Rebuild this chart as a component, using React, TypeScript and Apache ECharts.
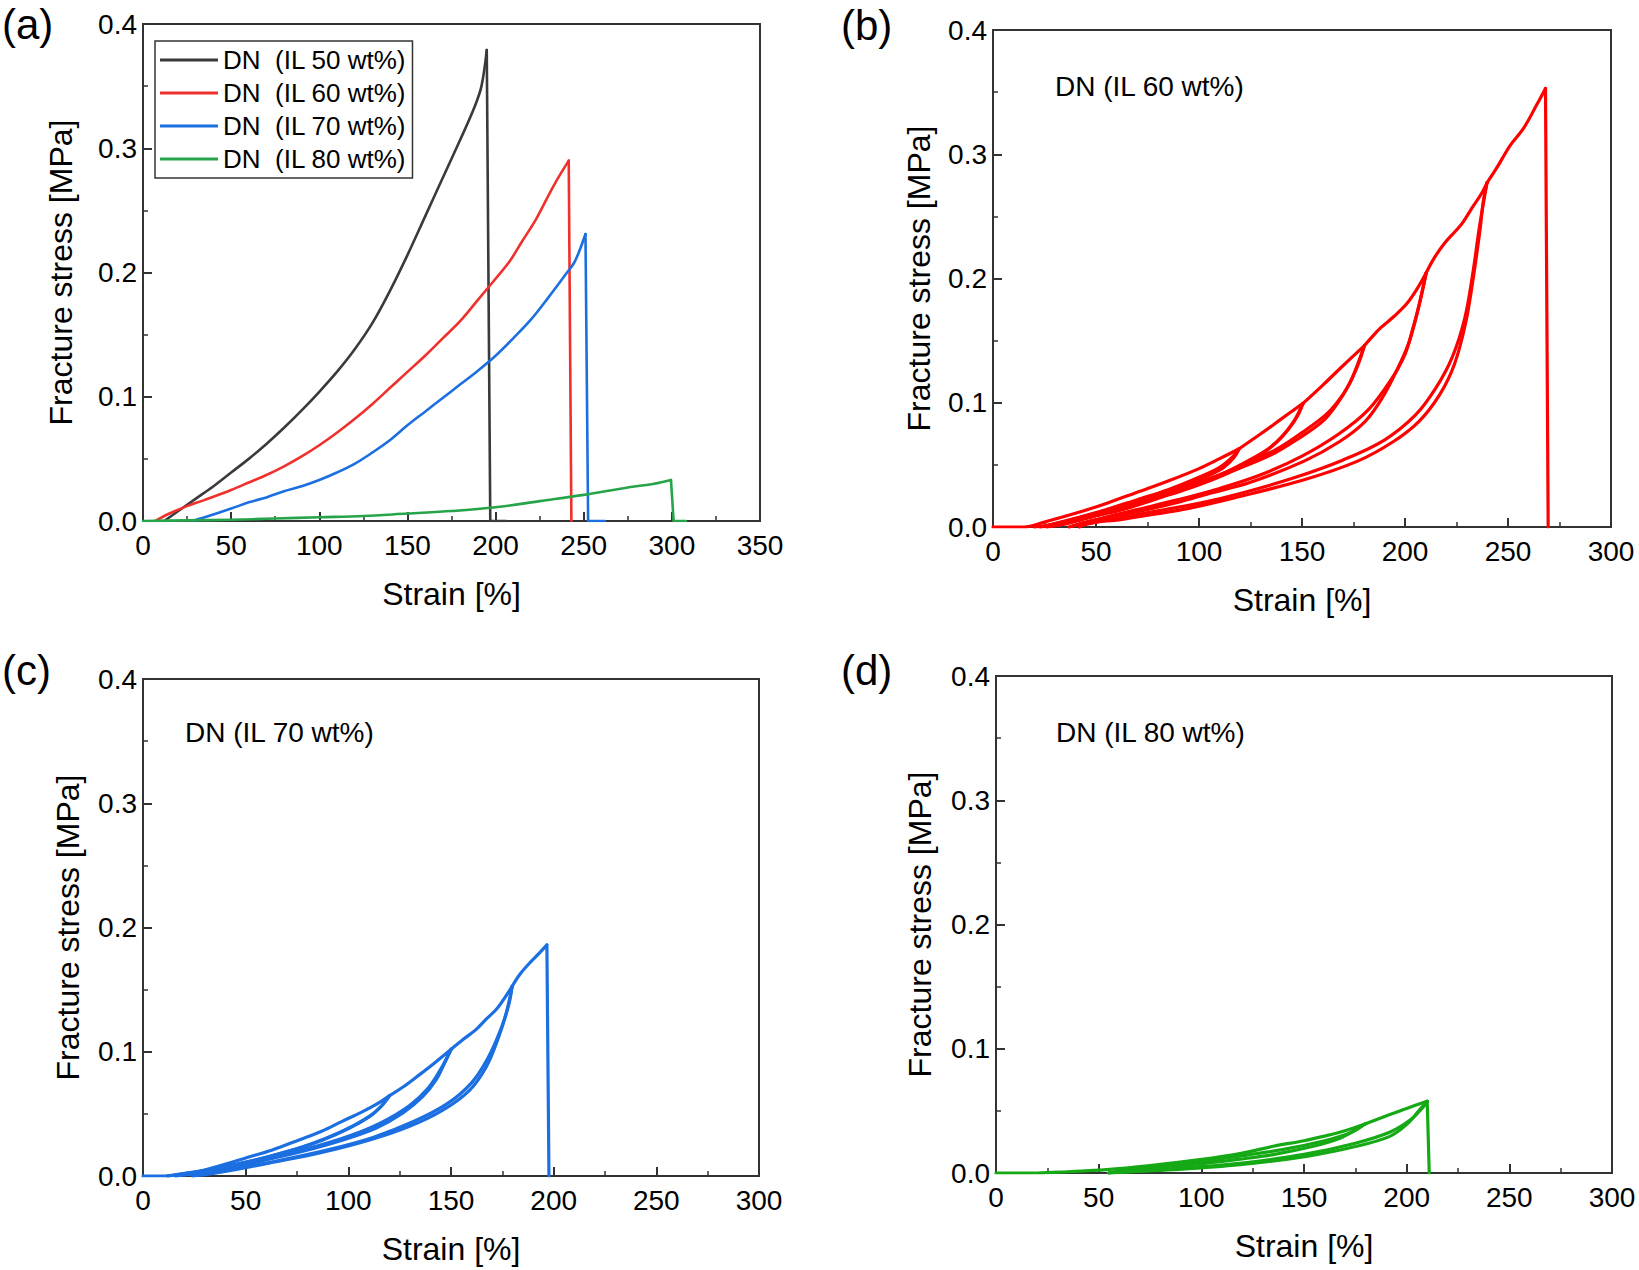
import React, { useEffect, useRef } from "react";
import * as echarts from "echarts";

// ---------- Panel (a): fracture curves ----------
const legendNames = ["DN  (IL 50 wt%)", "DN  (IL 60 wt%)", "DN  (IL 70 wt%)", "DN  (IL 80 wt%)"];
const il50Rise = [[12,0],[20,0.008],[30,0.018],[40,0.028],[50,0.039],[60,0.050],[70,0.062],[80,0.075],[90,0.089],[100,0.104],[110,0.120],[120,0.138],[130,0.159],[140,0.185],[150,0.214],[160,0.245],[170,0.276],[180,0.307],[188,0.333],[192,0.350],[195,0.379]];
const il50Fall = [[197,0],[206,0]];
const il60Rise = [[7,0],[15,0.006],[25,0.012],[35,0.017],[50,0.025],[60,0.031],[70,0.037],[80,0.044],[90,0.052],[100,0.061],[110,0.071],[120,0.082],[130,0.094],[140,0.107],[150,0.120],[160,0.133],[170,0.147],[180,0.161],[190,0.178],[200,0.195],[208,0.209],[215,0.225],[223,0.243],[233,0.270],[241.5,0.290]];
const il60Fall = [[243,0]];
const il70Rise = [[28,0],[35,0.003],[50,0.010],[60,0.015],[70,0.019],[80,0.024],[90,0.028],[100,0.033],[110,0.039],[120,0.046],[130,0.055],[140,0.065],[150,0.077],[160,0.088],[170,0.099],[180,0.110],[190,0.121],[200,0.133],[210,0.147],[220,0.162],[230,0.180],[240,0.199],[245,0.209],[251,0.231]];
const il70Fall = [[252.5,0],[262,0]];
const il80Rise = [[0,0],[25,0.0005],[50,0.001],[75,0.002],[100,0.003],[125,0.004],[150,0.006],[175,0.008],[200,0.011],[225,0.016],[250,0.021],[275,0.027],[290,0.030],[299.5,0.033]];
const il80Fall = [[301,0],[308,0]];

// ---------- Panel (b): IL 60 wt% cyclic ----------
const b_v0 = [[0,0],[15,0],[25,0.004],[40,0.011],[55,0.019],[70,0.028],[85,0.037],[100,0.047],[110,0.055],[119.5,0.063]];
const b_u1 = [[117,0.056],[112,0.048],[104,0.041],[92,0.033],[78,0.025],[62,0.017],[48,0.010],[36,0.005],[26,0.001],[20,0]];
const b_r1 = [[28,0.002],[40,0.007],[55,0.014],[70,0.022],[85,0.030],[100,0.040],[110,0.048],[116,0.056],[119.5,0.063]];
const b_v1 = [[130,0.075],[140,0.087],[150.5,0.0995]];
const b_u2 = [[148,0.090],[144,0.080],[138,0.069],[130,0.058],[120,0.048],[108,0.039],[95,0.031],[80,0.023],[65,0.015],[50,0.009],[38,0.004],[28,0.001],[23,0]];
const b_r2 = [[32,0.002],[45,0.007],[60,0.014],[75,0.021],[90,0.029],[105,0.038],[120,0.050],[132,0.061],[140,0.072],[146,0.085],[150.5,0.0995]];
const b_v2 = [[160,0.114],[170,0.130],[180.3,0.146]];
const b_u3 = [[177,0.131],[173,0.115],[167,0.099],[160,0.085],[149,0.072],[135,0.058],[116,0.045],[100,0.036],[85,0.028],[70,0.020],[55,0.012],[42,0.006],[32,0.002],[26,0]];
const b_r3 = [[34,0.002],[45,0.007],[60,0.014],[75,0.022],[90,0.030],[105,0.039],[120,0.049],[137,0.062],[150,0.076],[162,0.091],[170,0.107],[175,0.122],[178,0.134],[180.3,0.146]];
const b_v3 = [[184,0.153],[188,0.160],[195,0.170],[201,0.180],[206,0.192],[210.3,0.2046]];
const b_u4 = [[207.7,0.185],[205,0.166],[201.6,0.147],[196,0.126],[189,0.104],[180.7,0.085],[168.5,0.069],[151,0.053],[125,0.036],[105,0.027],[90,0.020],[72,0.013],[55,0.0075],[45,0.004],[37,0]];
const b_r4 = [[42,0.002],[55,0.008],[70,0.014],[90,0.022],[110,0.031],[130,0.042],[150,0.057],[168,0.075],[182,0.094],[193,0.118],[200,0.139],[204,0.161],[207.5,0.183],[210.3,0.2046]];
const b_v4 = [[214,0.216],[219,0.228],[225,0.239],[228,0.245],[233,0.258],[237,0.268],[239.8,0.277]];
const b_u5 = [[238,0.262],[236.4,0.239],[233,0.199],[229.4,0.164],[224,0.131],[217,0.107],[206.8,0.085],[194.6,0.069],[177,0.053],[151,0.038],[116,0.023],[95,0.015],[81,0.011],[62,0.006],[46,0.003],[42,0]];
const b_r5 = [[45,0.002],[60,0.007],[80,0.013],[100,0.019],[120,0.027],[145,0.039],[170,0.054],[190,0.070],[205,0.090],[215,0.112],[223,0.137],[229,0.168],[233,0.205],[236,0.240],[239.8,0.277]];
const b_v5 = [[244.9,0.290],[251,0.307],[257.6,0.321],[264,0.340],[268.2,0.353]];
const b_drop = [[269.5,0]];

// ---------- Panel (c): IL 70 wt% cyclic ----------
const c_v0 = [[0,0],[10,0],[24,0.0024],[37,0.008],[50,0.0145],[63,0.021],[76,0.029],[87,0.036],[97,0.044],[106,0.051],[114,0.058],[120.1,0.0647]];
const c_u1 = [[116,0.056],[110.4,0.048],[100.6,0.0386],[87.6,0.029],[73,0.021],[52,0.0118],[32.5,0.005],[16,0.001],[12,0]];
const c_r1 = [[20,0.002],[35,0.006],[55,0.013],[75,0.022],[90,0.031],[103,0.041],[112,0.050],[117,0.058],[120.1,0.0647]];
const c_v1 = [[127,0.072],[134.7,0.0816],[142,0.091],[150.1,0.102]];
const c_u2 = [[146.9,0.091],[142.8,0.0775],[136.3,0.064],[126.6,0.0507],[113.6,0.0386],[97.4,0.029],[77.9,0.0199],[56.8,0.0118],[35.7,0.0046],[21,0.001],[16,0]];
const c_r2 = [[24,0.002],[40,0.007],[60,0.014],[80,0.022],[100,0.032],[116,0.043],[130,0.057],[139,0.071],[145,0.086],[150.1,0.102]];
const c_v2 = [[156,0.110],[162.3,0.118],[167,0.126],[172,0.134],[176,0.143],[179.8,0.1527]];
const c_u3 = [[176.9,0.131],[172.8,0.110],[167.2,0.088],[159,0.069],[146,0.053],[129.8,0.040],[110.4,0.029],[86,0.0185],[61.7,0.0105],[40.6,0.0038],[29.2,0.0008],[24,0]];
const c_r3 = [[30,0.002],[45,0.006],[65,0.012],[90,0.021],[112,0.031],[132,0.044],[148,0.058],[160,0.075],[168,0.095],[174,0.117],[178,0.137],[179.8,0.1527]];
const c_v3 = [[183.4,0.162],[188.3,0.1714],[193.1,0.1795],[196.7,0.186]];
const c_drop = [[197.7,0]];

// ---------- Panel (d): IL 80 wt% cyclic ----------
const d_v0 = [[0,0],[20,0],[35,0.001],[53.9,0.0027],[75,0.006],[99.3,0.0107],[120,0.016],[135,0.0215],[150,0.026],[159.4,0.0295],[170,0.034],[179.7,0.0394]];
const d_u1 = [[175.6,0.0349],[167.5,0.028],[154.5,0.0215],[135,0.0148],[118,0.011],[102.6,0.008],[85,0.0055],[70,0.0035],[62,0.0015],[55,0]];
const d_r1 = [[62,0.002],[80,0.005],[100,0.009],[120,0.014],[140,0.019],[160,0.026],[172,0.032],[179.7,0.0394]];
const d_v1 = [[191.8,0.047],[200,0.052],[210,0.0577]];
const d_u2 = [[206.4,0.051],[199.9,0.0389],[191.8,0.0295],[175.6,0.0215],[151.2,0.0134],[118.8,0.0067],[86.3,0.0027],[62,0.0008],[55,0]];
const d_r2 = [[65,0.001],[90,0.004],[120,0.008],[150,0.015],[175,0.024],[192,0.033],[202,0.043],[208,0.053],[210,0.0577]];
const d_drop = [[211,0]];

// ---------- Axis ticks / texts ----------
const xMaxA = 350;
const xMaxBCD = 300;
const xInterval = 50;
const yMax = 0.4;
const yInterval = 0.1;
const panelLetters = ["(a)", "(b)", "(c)", "(d)"];
const panelTitles = ["DN (IL 60 wt%)", "DN (IL 70 wt%)", "DN (IL 80 wt%)"];

const FONT = "'Liberation Sans', Arial, Helvetica, sans-serif";
const AX = "#333333";

// Each segment starts at the previous segment's last point.
function chain(segments: number[][][]): number[][][] {
  const out: number[][][] = [];
  let last: number[] | null = null;
  for (const s of segments) {
    out.push(last ? [last, ...s] : s);
    last = s[s.length - 1];
  }
  return out;
}

export default function App() {
  const ref = useRef<HTMLDivElement>(null);
  useEffect(() => {
    if (!ref.current) return;
    const chart = echarts.init(ref.current, undefined, { renderer: "svg" });

    const grids = [
      { left: 143, top: 24, width: 617, height: 497 },
      { left: 993, top: 30, width: 618, height: 497 },
      { left: 143, top: 679, width: 616, height: 497 },
      { left: 996, top: 676, width: 616, height: 497 },
    ];
    const yGaps = [66, 58, 59, 60];

    const xAxis = grids.map((_, i) => ({
      type: "value",
      gridIndex: i,
      min: 0,
      max: i === 0 ? xMaxA : xMaxBCD,
      interval: xInterval,
      name: "Strain [%]",
      nameLocation: "middle",
      nameGap: 57,
      nameTextStyle: { fontSize: 32, color: "#000", fontFamily: FONT },
      axisLine: { show: true, onZero: false, lineStyle: { color: AX, width: 2 } },
      axisTick: { show: true, inside: true, length: 9, lineStyle: { color: AX, width: 2 } },
      minorTick: { show: true, splitNumber: 2, length: 5, lineStyle: { color: AX, width: 1.5 } },
      axisLabel: { fontSize: 28, color: "#000", fontFamily: FONT, margin: 10 },
      splitLine: { show: false },
      minorSplitLine: { show: false },
    }));
    const yAxis = grids.map((_, i) => ({
      type: "value",
      gridIndex: i,
      min: 0,
      max: yMax,
      interval: yInterval,
      name: "Fracture stress [MPa]",
      nameLocation: "middle",
      nameGap: yGaps[i],
      nameTextStyle: { fontSize: 32, color: "#000", fontFamily: FONT },
      axisLine: { show: true, onZero: false, lineStyle: { color: AX, width: 2 } },
      axisTick: { show: true, inside: true, length: 9, lineStyle: { color: AX, width: 2 } },
      minorTick: { show: true, splitNumber: 2, length: 5, lineStyle: { color: AX, width: 1.5 } },
      axisLabel: { fontSize: 28, color: "#000", fontFamily: FONT, margin: 6, formatter: (v: number) => v.toFixed(1) },
      splitLine: { show: false },
      minorSplitLine: { show: false },
    }));

    const line = (name: string, data: number[][], idx: number, color: string, width: number, smooth: number | boolean) => ({
      name,
      type: "line",
      xAxisIndex: idx,
      yAxisIndex: idx,
      data,
      symbol: "none",
      showSymbol: false,
      smooth,
      clip: true,
      lineStyle: { color, width, cap: "round", join: "round" },
      itemStyle: { color },
      emphasis: { disabled: true },
      silent: true,
    });

    const SM = 0.35;
    const panelSeries = (name: string, idx: number, color: string, width: number, curves: number[][][], drop: number[][]) => {
      const parts = chain([...curves, drop]);
      return parts.map((p, k) => line(name, p, idx, color, width, k === parts.length - 1 ? false : SM));
    };

    const series = [
      ...panelSeries(legendNames[0], 0, "#3a3a3a", 2.6, [il50Rise], il50Fall),
      ...panelSeries(legendNames[1], 0, "#f0302c", 2.6, [il60Rise], il60Fall),
      ...panelSeries(legendNames[2], 0, "#1b6fe0", 2.6, [il70Rise], il70Fall),
      ...panelSeries(legendNames[3], 0, "#27a44a", 2.6, [il80Rise], il80Fall),
      ...panelSeries("b", 1, "#ff0000", 3.2, [b_v0, b_u1, b_r1, b_v1, b_u2, b_r2, b_v2, b_u3, b_r3, b_v3, b_u4, b_r4, b_v4, b_u5, b_r5, b_v5], b_drop),
      ...panelSeries("c", 2, "#1b6fe0", 3.2, [c_v0, c_u1, c_r1, c_v1, c_u2, c_r2, c_v2, c_u3, c_r3, c_v3], c_drop),
      ...panelSeries("d", 3, "#15a915", 3.2, [d_v0, d_u1, d_r1, d_v1, d_u2, d_r2], d_drop),
    ];

    const textEl = (text: string, x: number, y: number, size: number) => ({
      type: "text",
      x,
      y,
      style: { text, fontSize: size, fontFamily: FONT, fill: "#000", verticalAlign: "middle" },
    });

    chart.setOption({
      animation: false,
      backgroundColor: "#ffffff",
      grid: grids.map((g) => ({ ...g, show: true, borderColor: AX, borderWidth: 2, backgroundColor: "transparent" })),
      xAxis,
      yAxis,
      legend: {
        data: legendNames,
        orient: "vertical",
        left: 155,
        top: 41,
        padding: [6, 6, 6, 5],
        itemGap: 7,
        itemWidth: 58,
        itemHeight: 3,
        icon: "rect",
        borderColor: AX,
        borderWidth: 1.5,
        backgroundColor: "#fff",
        selectedMode: false,
        textStyle: { fontSize: 26, color: "#000", fontFamily: FONT, lineHeight: 24 },
      },
      series,
      graphic: [
        textEl(panelLetters[0], 2, 24, 42),
        textEl(panelLetters[1], 841, 25, 42),
        textEl(panelLetters[2], 2, 670, 42),
        textEl(panelLetters[3], 841, 670, 42),
        textEl(panelTitles[0], 1055, 86, 28),
        textEl(panelTitles[1], 185, 732, 28),
        textEl(panelTitles[2], 1056, 732, 28),
      ],
    });
    return () => chart.dispose();
  }, []);
  return <div ref={ref} style={{ position: "absolute", left: 0, top: 0, width: 1639, height: 1270 }} />;
}
